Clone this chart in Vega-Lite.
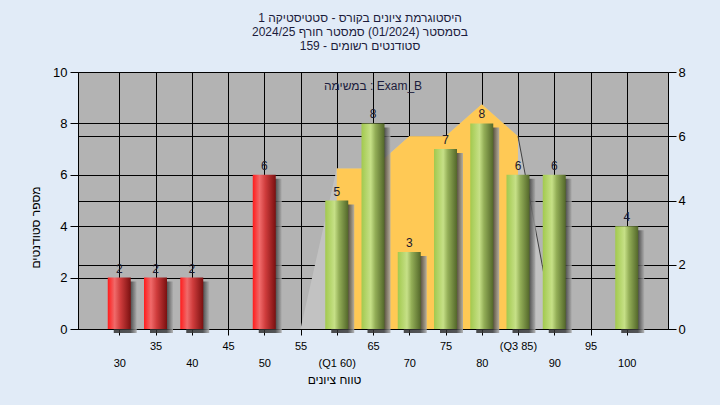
{
  "$schema": "https://vega.github.io/schema/vega-lite/v6.json",
  "width": 590,
  "height": 257,
  "autosize": "none",
  "padding": {"left": 78, "top": 72, "right": 52, "bottom": 76},
  "background": "#e1ebf7",
  "config": {
    "view": {"fill": "#b3b3b3", "stroke": null},
    "font": "Liberation Sans",
    "axis": {"gridColor": "#000000", "gridOpacity": 1, "gridWidth": 1, "domainColor": "#000000", "tickColor": "#000000", "labelColor": "#000000", "titleColor": "#000000", "titleFontWeight": "normal", "labelFont": "Liberation Sans", "titleFont": "Liberation Sans"}
  },
  "title": {
    "text": [
      "היסטוגרמת ציונים בקורס - סטטיסטיקה 1",
      "בסמסטר  (01/2024)  סמסטר חורף 2024/25",
      "סטודנטים רשומים - 159"
    ],
    "anchor": "middle",
    "frame": "group",
    "dx": -13,
    "offset": 13,
    "fontSize": 12,
    "fontWeight": "normal",
    "lineHeight": 14,
    "color": "#1c1c3c",
    "font": "Liberation Sans"
  },
  "datasets": {
    "bars": [
      {"x": 30, "count": 2, "grp": "fail"},
      {"x": 35, "count": 2, "grp": "fail"},
      {"x": 40, "count": 2, "grp": "fail"},
      {"x": 50, "count": 6, "grp": "fail"},
      {"x": 60, "count": 5, "grp": "pass"},
      {"x": 65, "count": 8, "grp": "pass"},
      {"x": 70, "count": 3, "grp": "pass"},
      {"x": 75, "count": 7, "grp": "pass"},
      {"x": 80, "count": 8, "grp": "pass"},
      {"x": 85, "count": 6, "grp": "pass"},
      {"x": 90, "count": 6, "grp": "pass"},
      {"x": 100, "count": 4, "grp": "pass"}
    ],
    "poly": [
      {"x": 55, "v": 0}, {"x": 60, "v": 5}, {"x": 65, "v": 5}, {"x": 70, "v": 6},
      {"x": 75, "v": 6}, {"x": 80, "v": 7}, {"x": 85, "v": 6}, {"x": 90, "v": 0}
    ],
    "iqr": [
      {"x": 60, "v": 5}, {"x": 65, "v": 5}, {"x": 70, "v": 6},
      {"x": 75, "v": 6}, {"x": 80, "v": 7}, {"x": 85, "v": 6}
    ],
    "edge": [
      {"x": 85, "v": 6}, {"x": 90, "v": 0}
    ],
    "note": [
      {"note": "במשימה : Exam_B"}
    ]
  },
  "layer": [
    {
      "encoding": {
        "x": {
          "field": "x",
          "type": "quantitative",
          "scale": {"domain": [25, 105], "nice": false, "zero": false},
          "axis": {
            "values": [30, 35, 40, 45, 50, 55, 60, 65, 70, 75, 80, 85, 90, 95, 100],
            "grid": true,
            "tickSize": 6,
            "labelFontSize": 11,
            "labelOverlap": false,
            "labelFlush": false,
            "labelPadding": {"condition": {"test": "datum.value % 10 == 5", "value": 5}, "value": 22},
            "labelExpr": "datum.value == 60 ? '(Q1 60)' : datum.value == 85 ? '(Q3 85)' : datum.label",
            "title": "טווח ציונים",
            "titleFontSize": 12,
            "titlePadding": 6,
            "titleX": 256,
            "titleAnchor": "start",
            "titleAlign": "center"
          }
        },
        "y": {
          "field": "v",
          "type": "quantitative",
          "scale": {"domain": [0, 8], "nice": false},
          "axis": {"orient": "right", "values": [0, 2, 4, 6, 8], "grid": true, "tickSize": 8, "labelPadding": 2, "labelFontSize": 13, "title": null}
        }
      },
      "layer": [
        {"data": {"name": "poly"}, "mark": {"type": "area", "color": "#c2c2c2", "opacity": 1}},
        {"data": {"name": "iqr"}, "mark": {"type": "area", "color": "#ffc955", "opacity": 1}},
        {"data": {"name": "edge"}, "mark": {"type": "line", "color": "#404040", "strokeWidth": 1}}
      ]
    },
    {
      "data": {"name": "bars"},
      "encoding": {
        "x": {
          "field": "x",
          "type": "quantitative",
          "scale": {"domain": [25, 105], "nice": false, "zero": false},
          "axis": {
            "values": [30, 35, 40, 45, 50, 55, 60, 65, 70, 75, 80, 85, 90, 95, 100],
            "grid": true,
            "tickSize": 6,
            "labelFontSize": 11,
            "labelOverlap": false,
            "labelFlush": false,
            "labelPadding": {"condition": {"test": "datum.value % 10 == 5", "value": 5}, "value": 22},
            "labelExpr": "datum.value == 60 ? '(Q1 60)' : datum.value == 85 ? '(Q3 85)' : datum.label",
            "title": "טווח ציונים",
            "titleFontSize": 12,
            "titlePadding": 6,
            "titleX": 256,
            "titleAnchor": "start",
            "titleAlign": "center"
          }
        },
        "y": {
          "field": "count",
          "type": "quantitative",
          "scale": {"domain": [0, 10], "nice": false},
          "axis": {
            "orient": "left",
            "values": [0, 2, 4, 6, 8, 10],
            "grid": true,
            "tickSize": 8,
            "labelPadding": 3,
            "labelFontSize": 13,
            "title": "מספר סטודנטים",
            "titleFontSize": 12,
            "titleX": -43,
            "titleY": 155,
            "titleAngle": 270,
            "titleAlign": "center",
            "titleBaseline": "middle"
          }
        }
      },
      "layer": [
        {
          "mark": {
            "type": "bar", "size": 23, "xOffset": 6, "yOffset": 4, "y2Offset": 4, "opacity": 0.85,
            "color": {"gradient": "linear", "x1": 0, "x2": 1, "y1": 0, "y2": 0,
              "stops": [{"offset": 0, "color": "#2e2e2e"}, {"offset": 0.72, "color": "#3a3a3a"}, {"offset": 1, "color": "#ababab"}]}
          }
        },
        {
          "transform": [{"filter": "datum.grp == 'fail'"}],
          "mark": {
            "type": "bar", "size": 23,
            "color": {"gradient": "linear", "x1": 0, "x2": 1, "y1": 0, "y2": 0,
              "stops": [{"offset": 0, "color": "#ff1c1c"}, {"offset": 0.3, "color": "#f06a6a"}, {"offset": 0.55, "color": "#cf3c3c"}, {"offset": 1, "color": "#7a1010"}]}
          }
        },
        {
          "transform": [{"filter": "datum.grp == 'pass'"}],
          "mark": {
            "type": "bar", "size": 23,
            "color": {"gradient": "linear", "x1": 0, "x2": 1, "y1": 0, "y2": 0,
              "stops": [{"offset": 0, "color": "#a2c94e"}, {"offset": 0.4, "color": "#c6e087"}, {"offset": 0.6, "color": "#93ae57"}, {"offset": 1, "color": "#53672a"}]}
          }
        },
        {
          "mark": {"type": "text", "baseline": "bottom", "dy": -2, "fontSize": 12, "color": "#1a1a2e", "font": "Liberation Sans"},
          "encoding": {"text": {"field": "count", "type": "quantitative"}}
        }
      ]
    },
    {
      "data": {"name": "note"},
      "mark": {"type": "text", "baseline": "middle", "align": "center", "fontSize": 12, "color": "#1c1c3c", "font": "Liberation Sans"},
      "encoding": {
        "x": {"datum": 65, "type": "quantitative"},
        "y": {"datum": 9.45, "type": "quantitative", "scale": {"domain": [0, 10], "nice": false}, "axis": null},
        "text": {"field": "note", "type": "nominal"}
      }
    }
  ],
  "resolve": {"scale": {"y": "independent"}}
}
